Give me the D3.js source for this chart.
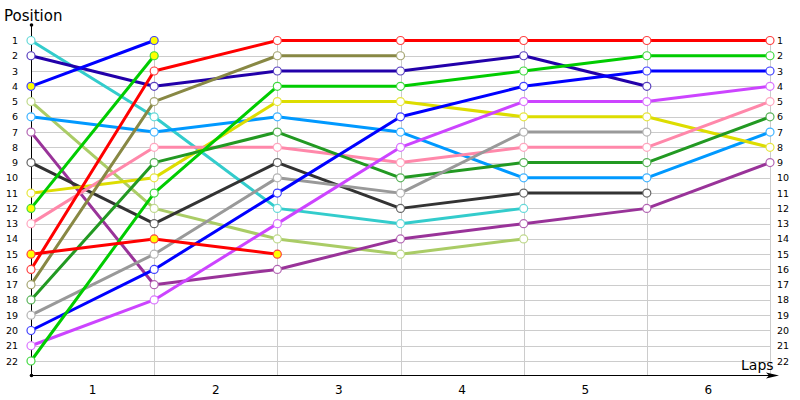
<!DOCTYPE html>
<html>
<head>
<meta charset="utf-8">
<script src="https://cdn.jsdelivr.net/npm/d3@7"></script>
<style>
    body { margin: 0; background: #fff; }
    svg text { font-family: "DejaVu Sans", Verdana, sans-serif; fill: #000; }
</style>
</head>
<body>
<svg id="chart" width="800" height="400"></svg>
<script>
'use strict';

// lap boundaries and positions
let laps = [0, 1, 2, 3, 4, 5, 6],
    lapLabels = ["1", "2", "3", "4", "5", "6"],
    positions = d3.range(1, 23);

// one array per car, position at each lap boundary (shorter = retired)
let red      = [16, 3, 1, 1, 1, 1, 1],
    green    = [22, 11, 4, 4, 3, 2, 2],
    blue     = [20, 16, 11, 6, 4, 3, 3],
    violet   = [21, 18, 13, 8, 5, 5, 4],
    pink     = [13, 8, 8, 9, 8, 8, 5],
    dkgreen  = [18, 9, 7, 10, 9, 9, 6],
    skyblue  = [6, 7, 6, 7, 10, 10, 7],
    yellow   = [11, 10, 5, 5, 6, 6, 8],
    purple   = [7, 17, 16, 14, 13, 12, 9],
    dkblue   = [2, 4, 3, 3, 2, 4],
    grey     = [19, 15, 10, 11, 7, 7],
    dkgrey   = [9, 13, 9, 12, 11, 11],
    cyan     = [1, 6, 12, 13, 12],
    ltgreen  = [5, 12, 14, 15, 14],
    olive    = [17, 5, 2, 2],
    red2     = [15, 14, 15],
    blue2    = [4, 1],
    green2   = [12, 2];

let series = [
    {name: "cyan", values: cyan, color: "#33cccc"},
    {name: "dkblue", values: dkblue, color: "#2200aa"},
    {name: "ltgreen", values: ltgreen, color: "#aacc66"},
    {name: "skyblue", values: skyblue, color: "#0099ff"},
    {name: "purple", values: purple, color: "#993399"},
    {name: "dkgrey", values: dkgrey, color: "#333333"},
    {name: "yellow", values: yellow, color: "#dddd00"},
    {name: "pink", values: pink, color: "#ff88aa"},
    {name: "olive", values: olive, color: "#888844"},
    {name: "dkgreen", values: dkgreen, color: "#229922"},
    {name: "grey", values: grey, color: "#999999"},
    {name: "violet", values: violet, color: "#cc44ff"},
    {name: "blue", values: blue, color: "#0000ff"},
    {name: "green", values: green, color: "#00cc00"},
    {name: "red", values: red, color: "#ff0000"},
    {name: "red2", values: red2, color: "#ff0000", pit: true},
    {name: "green2", values: green2, color: "#00cc00", pit: true},
    {name: "blue2", values: blue2, color: "#0000ff", pit: true}
];

let svg = d3.select("#chart");

let x = d3.scaleLinear().domain([0, 6]).range([31, 770]),
    y = d3.scaleLinear().domain([1, 22]).range([40.5, 361]);

let axisY = 375.5, axisX = 31.5;

// grid
let grid = svg.append("g").attr("class", "grid")
    .attr("stroke", "#cccccc").attr("stroke-width", 1);
grid.selectAll("line.h")
    .data(positions)
    .enter().append("line")
    .attr("class", "h")
    .attr("x1", axisX).attr("x2", x(6) + 0.5)
    .attr("y1", function(d) { return Math.round(y(d)) + 0.5; })
    .attr("y2", function(d) { return Math.round(y(d)) + 0.5; });
grid.selectAll("line.v")
    .data(laps.slice(1))
    .enter().append("line")
    .attr("class", "v")
    .attr("x1", function(d) { return Math.round(x(d)) + 0.5; })
    .attr("x2", function(d) { return Math.round(x(d)) + 0.5; })
    .attr("y1", y(1)).attr("y2", axisY);

// axes
let axes = svg.append("g").attr("stroke", "#000").attr("stroke-width", 1);
axes.append("line").attr("x1", axisX).attr("x2", axisX).attr("y1", 25).attr("y2", axisY);
axes.append("line").attr("x1", axisX).attr("x2", 776).attr("y1", axisY).attr("y2", axisY);
svg.append("path")
    .attr("d", "M779," + axisY + " L766," + (axisY - 3) + " L769," + axisY + " L766," + (axisY + 3) + "Z")
    .attr("fill", "#000");
svg.append("circle").attr("cx", axisX).attr("cy", 25).attr("r", 1.8).attr("fill", "#000");
svg.append("circle").attr("cx", axisX).attr("cy", axisY).attr("r", 1.8).attr("fill", "#000");

// position labels both sides
svg.append("g").selectAll("text")
    .data(positions)
    .enter().append("text")
    .attr("x", 18).attr("y", function(d) { return y(d) + 3.5; })
    .attr("text-anchor", "end")
    .style("font-size", "9.5px")
    .text(function(d) { return d; });
svg.append("g").selectAll("text")
    .data(positions)
    .enter().append("text")
    .attr("x", 777).attr("y", function(d) { return y(d) + 3.5; })
    .style("font-size", "9.5px")
    .text(function(d) { return d; });

// lap labels between boundaries
svg.append("g").selectAll("text")
    .data(lapLabels)
    .enter().append("text")
    .attr("x", function(d, i) { return x(i + 0.5); })
    .attr("y", 394)
    .attr("text-anchor", "middle")
    .style("font-size", "12px")
    .text(function(d) { return d; });

svg.append("text").attr("x", 4).attr("y", 21).style("font-size", "15px").text("Position");
svg.append("text").attr("x", 741).attr("y", 370).style("font-size", "14px").text("Laps");

// lines
let line = d3.line()
    .x(function(d, i) { return x(laps[i]); })
    .y(function(d) { return y(d); });

svg.append("g").attr("class", "lines")
    .selectAll("path")
    .data(series)
    .enter().append("path")
    .attr("d", function(d) { return line(d.values); })
    .attr("fill", "none")
    .attr("stroke", function(d) { return d.color; })
    .attr("stroke-width", 3)
    .attr("stroke-linejoin", "round");

// markers
let marks = svg.append("g").attr("class", "marks");
series.forEach(function(s) {
    marks.selectAll(null)
        .data(s.values)
        .enter().append("circle")
        .attr("cx", function(d, i) { return x(laps[i]); })
        .attr("cy", function(d) { return y(d); })
        .attr("r", 4)
        .attr("fill", s.pit ? "#ffff00" : "#fff")
        .attr("stroke", d3.interpolateRgb(s.color, "#fff")(0.25))
        .attr("stroke-width", 1.2);
});
</script>
</body>
</html>
